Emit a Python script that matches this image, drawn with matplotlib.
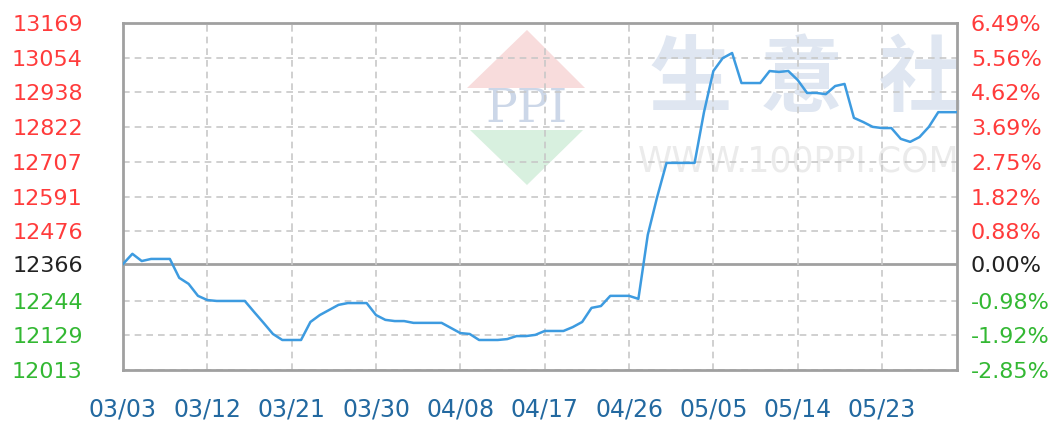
import matplotlib
matplotlib.use("Agg")
import matplotlib.pyplot as plt
import numpy as np

# ---- data ----
tick_labels = ["03/03", "03/12", "03/21", "03/30", "04/08", "04/17", "04/26", "05/05", "05/14", "05/23"]
tick_days = [0, 9, 18, 27, 36, 45, 54, 63, 72, 81]
base_value = 12366
left_ticks = [13169, 13054, 12938, 12822, 12707, 12591, 12476, 12366, 12244, 12129, 12013]
right_labels = ["6.49%", "5.56%", "4.62%", "3.69%", "2.75%", "1.82%", "0.88%", "0.00%", "-0.98%", "-1.92%", "-2.85%"]
values = [
    12366, 12400, 12376, 12383, 12383, 12383, 12320, 12300, 12260, 12246,
    12243, 12243, 12243, 12243, 12206, 12170, 12133, 12113, 12113, 12113,
    12173, 12196, 12213, 12230, 12236, 12236, 12236, 12196, 12180, 12176,
    12176, 12170, 12170, 12170, 12170, 12153, 12136, 12133, 12113, 12113,
    12113, 12116, 12126, 12126, 12130, 12143, 12143, 12143, 12156, 12173,
    12220, 12226, 12260, 12260, 12260, 12250, 12463, 12589, 12703, 12703,
    12703, 12703, 12872, 13009, 13052, 13069, 12969, 12969, 12969, 13009,
    13006, 13009, 12979, 12936, 12936, 12932, 12959, 12966, 12853, 12839,
    12823, 12819, 12819, 12783, 12773, 12789, 12823, 12872, 12872, 12872,
]

days = np.arange(len(values))

fig = plt.figure(figsize=(10.57, 4.22), dpi=100)
ax = fig.add_axes([123/1057, 1-370/422, 834/1057, 347/422])

ymin, ymax = min(left_ticks), max(left_ticks)
ax.set_xlim(0, len(values) - 1)
ax.set_ylim(ymin, ymax)

# watermark (axes fraction)
T = ax.transAxes
ax.add_patch(plt.Polygon([[0.4844, 0.98], [0.4125, 0.8127], [0.5540, 0.8127]],
                         closed=True, transform=T, color="#f8dcdc", zorder=0, lw=0))
ax.add_patch(plt.Polygon([[0.4161, 0.6916], [0.5516, 0.6916], [0.4844, 0.5331]],
                         closed=True, transform=T, color="#d8f0df", zorder=0, lw=0))
ax.text(0.4844, 0.752, "PPI", transform=T, ha="center", va="center", fontsize=34,
        family="DejaVu Serif", color="#ccd7e8", zorder=0)
for xf, ch in [(0.680, "生"), (0.814, "意"), (0.956, "社")]:
    ax.text(xf, 0.833, ch, transform=T, ha="center", va="center", fontsize=60,
            family=["Noto Sans CJK SC", "DejaVu Sans"], fontweight="bold",
            color="#dfe6f1", zorder=0)
ax.text(0.810, 0.60, "WWW.100PPI.COM", transform=T, ha="center", va="center",
        fontsize=25, color="#ebebeb", zorder=0)

# grid
for v in left_ticks:
    if v == base_value:
        ax.axhline(v, color="#a0a0a0", lw=2.0, zorder=1)
    else:
        ax.axhline(v, color="#c8c8c8", lw=1.2, ls=(0, (4, 3)), zorder=1)
for d in tick_days[1:]:
    ax.axvline(d, color="#c8c8c8", lw=1.2, ls=(0, (4, 3)), zorder=1)

ax.plot(days, values, color="#3d9be0", lw=1.8, zorder=3)

for s in ax.spines.values():
    s.set_color("#a0a0a0")
    s.set_linewidth(2)

ax.set_xticks(tick_days)
ax.set_xticklabels(tick_labels, fontsize=17, color="#2369a0")
ax.tick_params(axis="x", length=0, pad=20)

ax.set_yticks(left_ticks)
ax.set_yticklabels([str(v) for v in left_ticks], fontsize=16)
ax.tick_params(axis="y", length=0, pad=29)
for lab, v in zip(ax.get_yticklabels(), left_ticks):
    lab.set_color("#ff3b3b" if v > base_value else ("#222222" if v == base_value else "#33b833"))

ax2 = ax.twinx()
ax2.set_ylim(ymin, ymax)
ax2.set_yticks(left_ticks)
ax2.set_yticklabels(right_labels, fontsize=16)
ax2.tick_params(axis="y", length=0, pad=10)
for lab, v in zip(ax2.get_yticklabels(), left_ticks):
    lab.set_color("#ff3b3b" if v > base_value else ("#222222" if v == base_value else "#33b833"))
for s in ax2.spines.values():
    s.set_visible(False)

fig.savefig("out.png", dpi=100)
